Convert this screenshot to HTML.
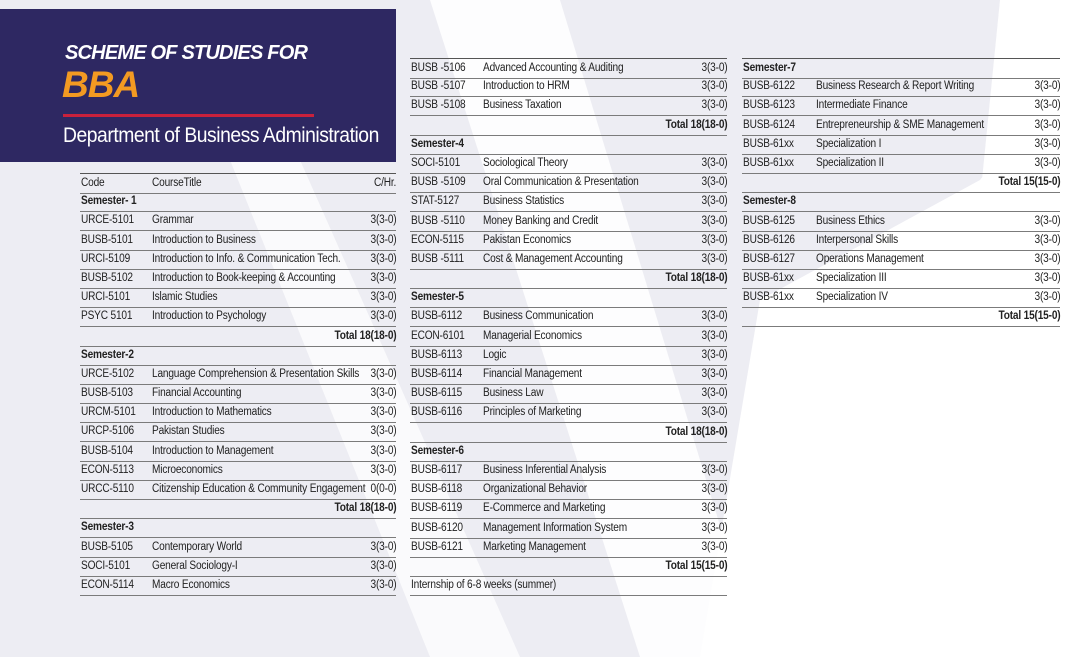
<!DOCTYPE html>
<html><head><meta charset="utf-8">
<style>
body{margin:0;width:1089px;height:657px;overflow:hidden;background:#fff;font-family:"Liberation Sans",sans-serif;position:relative}
#bg{position:absolute;left:0;top:0}
.hdr{position:absolute;left:0;top:9px;width:396px;height:153px;background:#2e2862}
.t1{position:absolute;left:65px;top:33px;color:#fff;font-weight:bold;font-style:italic;font-size:20px;letter-spacing:-0.8px;white-space:nowrap}
.t2{position:absolute;left:62px;top:55px;color:#f39a22;font-weight:bold;font-style:italic;font-size:37px;letter-spacing:-1px}
.bar{position:absolute;left:63px;top:105px;width:251px;height:3px;background:#c9213c}
.t3{position:absolute;left:63px;top:115px;color:#fff;font-size:21px;letter-spacing:-0.5px;white-space:nowrap;transform:scaleX(0.92);transform-origin:left}
.row{position:absolute;height:19px;border-bottom:1px solid #7b7b7b;font-size:11.5px;color:#222;letter-spacing:-0.2px;white-space:nowrap}
.row span{position:absolute;top:3px;transform:scaleX(0.88);transform-origin:left}
.row .c{right:0;transform-origin:right}
.row.b{font-weight:bold}
.top{border-top:1px solid #555}
</style></head><body>
<svg id="bg" width="1089" height="657">
<polygon points="0,0 1089,0 1089,40 980,180 760,300 700,657 0,657" fill="#ededf3"/>
<polygon points="430,0 560,0 760,657 640,657" fill="#ffffff" opacity="0.85"/>
<polygon points="230,160 300,160 520,657 430,657" fill="#ffffff" opacity="0.7"/>
<polygon points="1000,0 1089,0 1089,657 760,657 760,330 980,200" fill="#ffffff"/>
</svg>
<div class="hdr">
<div class="t1">SCHEME OF STUDIES FOR</div>
<div class="t2">BBA</div>
<div class="bar"></div>
<div class="t3">Department of Business Administration</div>
</div>
<div id="tables"></div>
<script>
const col1=[["h","Code","CourseTitle","C/Hr."],["s","Semester- 1"],["r","URCE-5101","Grammar","3(3-0)"],["r","BUSB-5101","Introduction to Business","3(3-0)"],["r","URCI-5109","Introduction to Info. & Communication Tech.","3(3-0)"],["r","BUSB-5102","Introduction to Book-keeping & Accounting","3(3-0)"],["r","URCI-5101","Islamic Studies","3(3-0)"],["r","PSYC 5101","Introduction to Psychology","3(3-0)"],["t","Total 18(18-0)"],["s","Semester-2"],["r","URCE-5102","Language Comprehension & Presentation Skills","3(3-0)"],["r","BUSB-5103","Financial Accounting","3(3-0)"],["r","URCM-5101","Introduction to Mathematics","3(3-0)"],["r","URCP-5106","Pakistan Studies","3(3-0)"],["r","BUSB-5104","Introduction to Management","3(3-0)"],["r","ECON-5113","Microeconomics","3(3-0)"],["r","URCC-5110","Citizenship Education & Community Engagement","0(0-0)"],["t","Total 18(18-0)"],["s","Semester-3"],["r","BUSB-5105","Contemporary World","3(3-0)"],["r","SOCI-5101","General Sociology-I","3(3-0)"],["r","ECON-5114","Macro Economics","3(3-0)"]];
const col2=[["r","BUSB -5106","Advanced Accounting & Auditing","3(3-0)"],["r","BUSB -5107","Introduction to HRM","3(3-0)"],["r","BUSB -5108","Business Taxation","3(3-0)"],["t","Total 18(18-0)"],["s","Semester-4"],["r","SOCI-5101","Sociological Theory","3(3-0)"],["r","BUSB -5109","Oral Communication & Presentation","3(3-0)"],["r","STAT-5127","Business Statistics","3(3-0)"],["r","BUSB -5110","Money Banking and Credit","3(3-0)"],["r","ECON-5115","Pakistan Economics","3(3-0)"],["r","BUSB -5111","Cost & Management Accounting","3(3-0)"],["t","Total 18(18-0)"],["s","Semester-5"],["r","BUSB-6112","Business Communication","3(3-0)"],["r","ECON-6101","Managerial Economics","3(3-0)"],["r","BUSB-6113","Logic","3(3-0)"],["r","BUSB-6114","Financial Management","3(3-0)"],["r","BUSB-6115","Business Law","3(3-0)"],["r","BUSB-6116","Principles of Marketing","3(3-0)"],["t","Total 18(18-0)"],["s","Semester-6"],["r","BUSB-6117","Business Inferential Analysis","3(3-0)"],["r","BUSB-6118","Organizational Behavior","3(3-0)"],["r","BUSB-6119","E-Commerce and Marketing","3(3-0)"],["r","BUSB-6120","Management Information System","3(3-0)"],["r","BUSB-6121","Marketing Management","3(3-0)"],["t","Total 15(15-0)"],["n","Internship of 6-8 weeks (summer)"]];
const col3=[["s","Semester-7"],["r","BUSB-6122","Business Research & Report Writing","3(3-0)"],["r","BUSB-6123","Intermediate Finance","3(3-0)"],["r","BUSB-6124","Entrepreneurship & SME Management","3(3-0)"],["r","BUSB-61xx","Specialization I","3(3-0)"],["r","BUSB-61xx","Specialization II","3(3-0)"],["t","Total 15(15-0)"],["s","Semester-8"],["r","BUSB-6125","Business Ethics","3(3-0)"],["r","BUSB-6126","Interpersonal Skills","3(3-0)"],["r","BUSB-6127","Operations Management","3(3-0)"],["r","BUSB-61xx","Specialization III","3(3-0)"],["r","BUSB-61xx","Specialization IV","3(3-0)"],["t","Total 15(15-0)"]];
const host=document.getElementById('tables');
function build(rows,x,w,y0,tw){
 rows.forEach((r,i)=>{
  const d=document.createElement('div');
  d.className='row'+((r[0]=='s'||r[0]=='t')?' b':'')+(i==0?' top':'');
  
  
  d.style.left=x+'px';d.style.width=w+'px';d.style.top=(y0+i*19.19-10)+'px';
  if(r[0]=='r'||r[0]=='h'){
   d.innerHTML='<span style="left:1px">'+r[1]+'</span><span style="left:'+tw+'px">'+r[2]+'</span><span class="c">'+r[3]+'</span>';
  }else if(r[0]=='t'){
   d.innerHTML='<span class="c">'+r[1]+'</span>';
  }else{
   d.innerHTML='<span style="left:1px">'+r[1]+'</span>';
  }
  host.appendChild(d);
 });
}
build(col1,80,316,183,72);
build(col2,410,317,68,73);
build(col3,742,318,68,74);
</script>
</body></html>
